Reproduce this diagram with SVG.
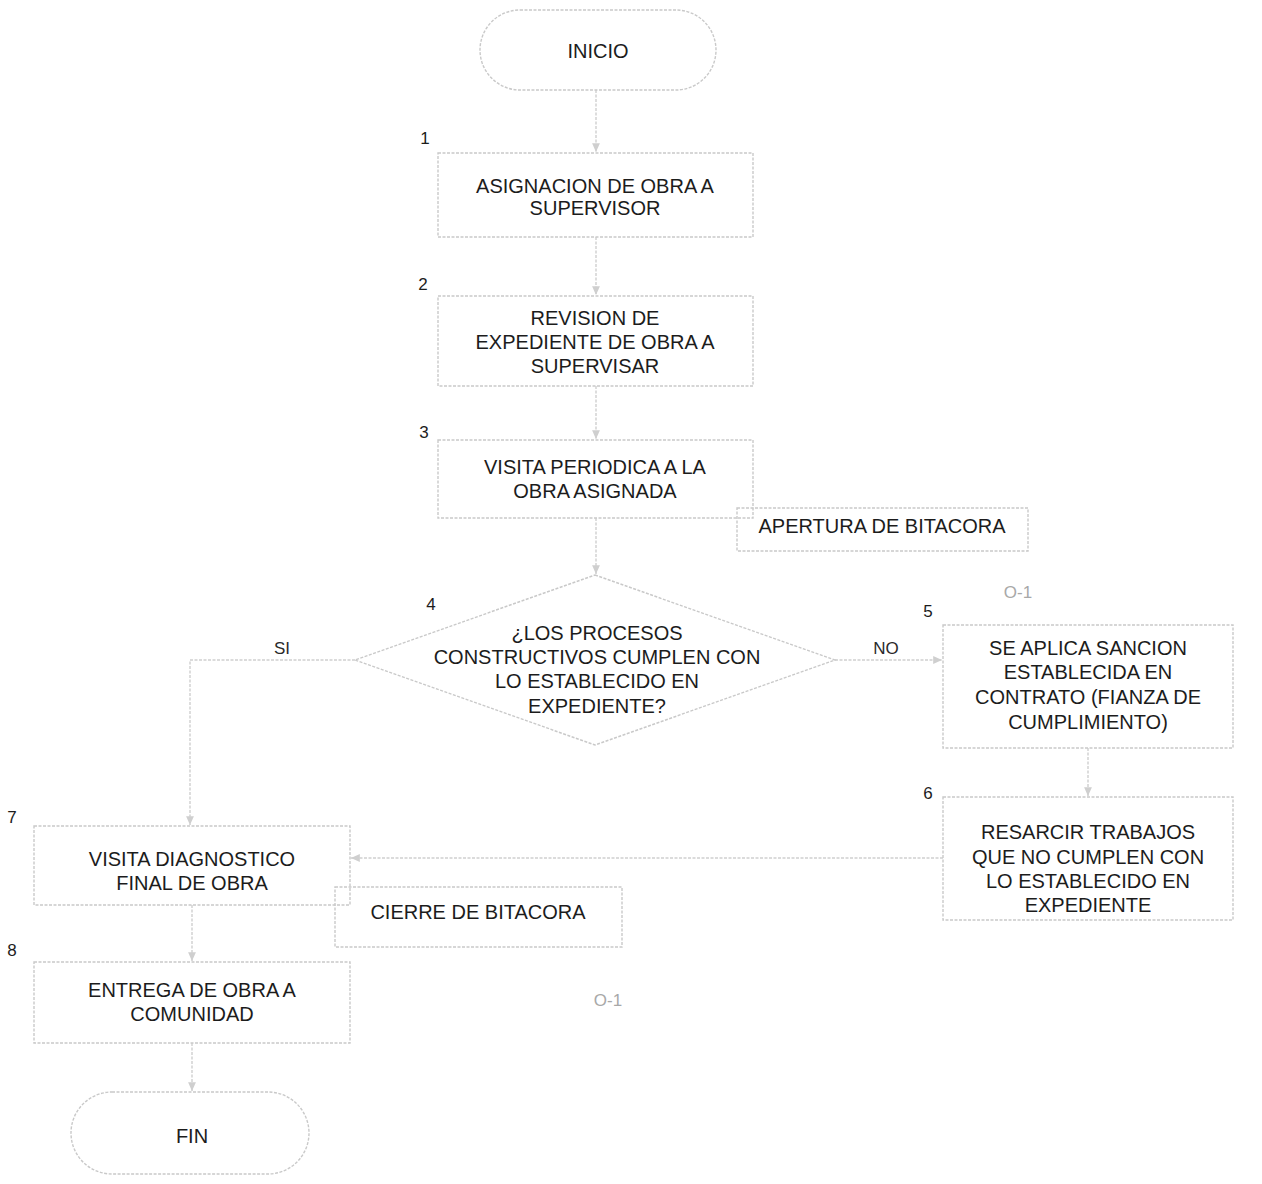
<svg xmlns="http://www.w3.org/2000/svg" width="1262" height="1184" viewBox="0 0 1262 1184">
<defs>
<style>
.shape{fill:none;stroke:#c9c9c9;stroke-width:1.4;stroke-dasharray:3 1.5}
.conn{fill:none;stroke:#cfcfcf;stroke-width:1.4;stroke-dasharray:3 1.5}
.t{font-family:"Liberation Sans",Arial,sans-serif;font-size:20px;fill:#1c1c1c;text-anchor:middle;dominant-baseline:central}
.n{font-family:"Liberation Sans",Arial,sans-serif;font-size:17px;fill:#1c1c1c;text-anchor:middle;dominant-baseline:central}
.lbl{font-family:"Liberation Sans",Arial,sans-serif;font-size:17px;fill:#2a2a2a;text-anchor:middle;dominant-baseline:central}
.ref{font-family:"Liberation Sans",Arial,sans-serif;font-size:17px;fill:#a8a8a8;text-anchor:middle;dominant-baseline:central}
</style>
<marker id="arr" viewBox="0 0 10 10" refX="9" refY="5" markerWidth="7" markerHeight="7" orient="auto-start-reverse">
<path d="M0,1 L9,5 L0,9 z" fill="#cfcfcf"/>
</marker>
</defs>
<rect width="1262" height="1184" fill="#ffffff"/>

<g id="connectors">
<line class="conn" x1="596" y1="90" x2="596" y2="152" marker-end="url(#arr)"/>
<line class="conn" x1="596" y1="237" x2="596" y2="295" marker-end="url(#arr)"/>
<line class="conn" x1="596" y1="386" x2="596" y2="439" marker-end="url(#arr)"/>
<line class="conn" x1="596" y1="518" x2="596" y2="574" marker-end="url(#arr)"/>
<polyline class="conn" points="355,660 190,660 190,825" marker-end="url(#arr)"/>
<line class="conn" x1="835" y1="660" x2="942" y2="660" marker-end="url(#arr)"/>
<line class="conn" x1="1088" y1="748" x2="1088" y2="796" marker-end="url(#arr)"/>
<line class="conn" x1="943" y1="858" x2="351" y2="858" marker-end="url(#arr)"/>
<line class="conn" x1="192" y1="905" x2="192" y2="961" marker-end="url(#arr)"/>
<line class="conn" x1="192" y1="1043" x2="192" y2="1091" marker-end="url(#arr)"/>
<text class="lbl" x="282" y="648">SI</text>
<text class="lbl" x="886" y="648">NO</text>
</g>

<g id="inicio">
<rect class="shape" x="480" y="10" width="236" height="80" rx="40" ry="40"/>
<text class="t" x="598" y="51">INICIO</text>
</g>

<g id="n1">
<text class="n" x="425" y="138">1</text>
<rect class="shape" x="438" y="153" width="315" height="84"/>
<text class="t" x="595" y="186">ASIGNACION DE OBRA A</text>
<text class="t" x="595" y="208">SUPERVISOR</text>
</g>

<g id="n2">
<text class="n" x="423" y="284">2</text>
<rect class="shape" x="438" y="296" width="315" height="90"/>
<text class="t" x="595" y="318">REVISION DE</text>
<text class="t" x="595" y="342">EXPEDIENTE DE OBRA A</text>
<text class="t" x="595" y="366">SUPERVISAR</text>
</g>

<g id="n3">
<text class="n" x="424" y="432">3</text>
<rect class="shape" x="438" y="440" width="315" height="78"/>
<text class="t" x="595" y="467">VISITA PERIODICA A LA</text>
<text class="t" x="595" y="491">OBRA ASIGNADA</text>
</g>

<g id="apertura">
<rect class="shape" x="737" y="508" width="291" height="43"/>
<text class="t" x="882" y="526">APERTURA DE BITACORA</text>
</g>

<g id="n4">
<text class="n" x="431" y="604">4</text>
<polygon class="shape" points="595,575 835,660 595,745 355,660"/>
<text class="t" x="597" y="633">¿LOS PROCESOS</text>
<text class="t" x="597" y="657">CONSTRUCTIVOS CUMPLEN CON</text>
<text class="t" x="597" y="681">LO ESTABLECIDO EN</text>
<text class="t" x="597" y="706">EXPEDIENTE?</text>
</g>

<text class="ref" x="1018" y="592">O-1</text>

<g id="n5">
<text class="n" x="928" y="611">5</text>
<rect class="shape" x="943" y="625" width="290" height="123"/>
<text class="t" x="1088" y="648">SE APLICA SANCION</text>
<text class="t" x="1088" y="672">ESTABLECIDA EN</text>
<text class="t" x="1088" y="697">CONTRATO (FIANZA DE</text>
<text class="t" x="1088" y="722">CUMPLIMIENTO)</text>
</g>

<g id="n6">
<text class="n" x="928" y="793">6</text>
<rect class="shape" x="943" y="797" width="290" height="123"/>
<text class="t" x="1088" y="832">RESARCIR TRABAJOS</text>
<text class="t" x="1088" y="857">QUE NO CUMPLEN CON</text>
<text class="t" x="1088" y="881">LO ESTABLECIDO EN</text>
<text class="t" x="1088" y="905">EXPEDIENTE</text>
</g>

<g id="n7">
<text class="n" x="12" y="817">7</text>
<rect class="shape" x="34" y="826" width="316" height="79"/>
<text class="t" x="192" y="859">VISITA DIAGNOSTICO</text>
<text class="t" x="192" y="883">FINAL DE OBRA</text>
</g>

<g id="cierre">
<rect class="shape" x="335" y="887" width="287" height="60"/>
<text class="t" x="478" y="912">CIERRE DE BITACORA</text>
</g>

<g id="n8">
<text class="n" x="12" y="950">8</text>
<rect class="shape" x="34" y="962" width="316" height="81"/>
<text class="t" x="192" y="990">ENTREGA DE OBRA A</text>
<text class="t" x="192" y="1014">COMUNIDAD</text>
</g>

<text class="ref" x="608" y="1000">O-1</text>

<g id="fin">
<rect class="shape" x="71" y="1092" width="238" height="82" rx="41" ry="41"/>
<text class="t" x="192" y="1136">FIN</text>
</g>
</svg>
